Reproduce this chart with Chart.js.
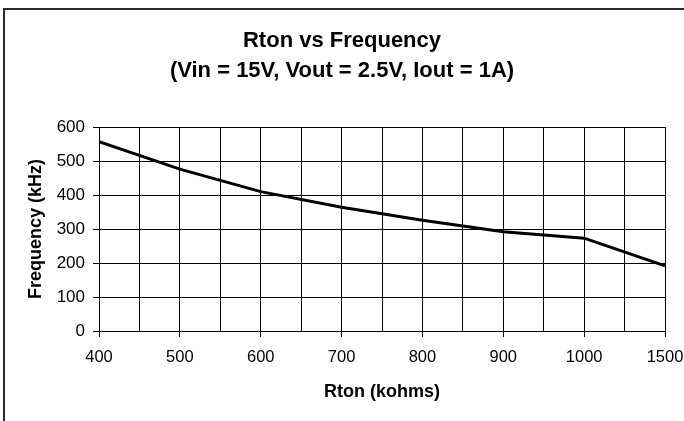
<!DOCTYPE html>
<html>
<head>
<meta charset="utf-8">
<script src="https://cdn.jsdelivr.net/npm/chart.js@4/dist/chart.umd.min.js"></script>
<style>
  html, body { margin: 0; padding: 0; background: #fff; }
  #wrap { position: relative; width: 684px; height: 421px; }
  #frame { position: absolute; left: 3px; top: 8px; right: 0; bottom: 0;
           border-left: 2px solid #2b2b2b; border-top: 2px solid #2b2b2b; pointer-events: none; }
  canvas { position: absolute; left: 0; top: 0; }
</style>
</head>
<body>
<div id="wrap">
  <canvas id="c" width="684" height="421"></canvas>
  <div id="frame"></div>
</div>
<script>
// Data
const categories = ['400', '500', '600', '700', '800', '900', '1000', '1500'];
const frequencyKHz = [557, 476, 410, 364, 326, 292, 273, 192];
const yTicks = [0, 100, 200, 300, 400, 500, 600];
const titleLines = ['Rton vs Frequency', '(Vin = 15V, Vout = 2.5V, Iout = 1A)'];
const xTitle = 'Rton (kohms)';
const yTitle = 'Frequency (kHz)';

const points = frequencyKHz.map((v, i) => ({ x: i, y: v }));
const FONT = "'Liberation Sans', Arial, sans-serif";

new Chart(document.getElementById('c'), {
  type: 'line',
  data: {
    datasets: [{
      data: points,
      borderColor: '#000',
      borderWidth: 3,
      pointRadius: 0,
      tension: 0,
      fill: false
    }]
  },
  options: {
    responsive: false,
    animation: false,
    layout: { padding: { left: 0, right: 0, top: 0, bottom: 0 } },
    plugins: {
      legend: { display: false },
      tooltip: { enabled: false },
      title: {
        display: true,
        text: titleLines,
        color: '#000',
        font: { family: FONT, size: 22, weight: 'bold', lineHeight: 1.35 },
        padding: { top: 26, bottom: 41.6 }
      }
    },
    scales: {
      x: {
        type: 'linear',
        min: 0,
        max: categories.length - 1,
        afterBuildTicks: (scale) => {
          const t = [];
          for (let i = 0; i <= (categories.length - 1) * 2; i++) t.push({ value: i / 2 });
          scale.ticks = t;
        },
        afterFit: (scale) => { scale.height = 90; scale.paddingRight = 19; scale.paddingLeft = 0; },
        ticks: {
          autoSkip: false,
          maxRotation: 0,
          padding: 11,
          color: '#000',
          font: { family: FONT, size: 16.5 },
          callback: (v) => Number.isInteger(v) ? categories[v] : ''
        },
        grid: {
          color: '#000',
          lineWidth: 1,
          tickLength: 6,
          tickColor: (ctx) => (ctx.tick && Number.isInteger(ctx.tick.value)) ? '#000' : 'rgba(0,0,0,0)'
        },
        border: { color: '#000', width: 1 },
        title: {
          display: true,
          text: xTitle,
          color: '#000',
          font: { family: FONT, size: 18, weight: 'bold' },
          padding: { top: 13, bottom: 18 }
        }
      },
      y: {
        min: yTicks[0],
        max: yTicks[yTicks.length - 1],
        afterBuildTicks: (scale) => { scale.ticks = yTicks.map(v => ({ value: v })); },
        afterFit: (scale) => { scale.width = 99; },
        ticks: {
          padding: 8,
          color: '#000',
          font: { family: FONT, size: 17 }
        },
        grid: { color: '#000', lineWidth: 1, tickLength: 6, tickColor: '#000' },
        border: { color: '#000', width: 1 },
        title: {
          display: true,
          text: yTitle,
          color: '#000',
          font: { family: FONT, size: 18, weight: 'bold' },
          padding: { top: 25, bottom: 10 }
        }
      }
    }
  }
});
</script>
</body>
</html>
